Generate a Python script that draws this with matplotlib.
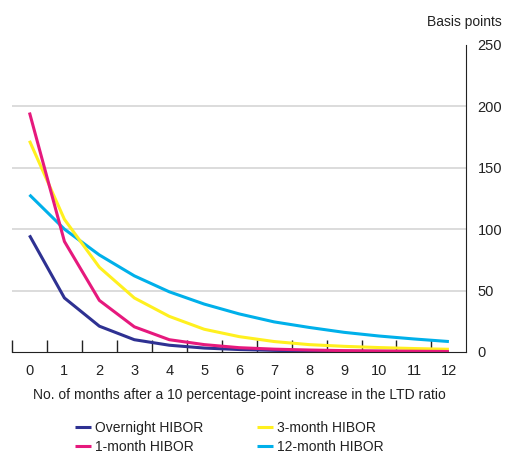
import numpy as np
import matplotlib
matplotlib.use("Agg")
import matplotlib.pyplot as plt
from matplotlib.ticker import FixedLocator

plt.rcParams['font.family'] = ['Liberation Sans', 'DejaVu Sans']

months = list(range(13))
overnight = [95, 44, 21, 10, 5.5, 3.2, 2, 1.3, 0.9, 0.6, 0.5, 0.4, 0.3]
one_month = [195, 90, 42, 20.5, 10, 6, 3.5, 2.3, 1.6, 1.1, 0.8, 0.6, 0.4]
three_month = [172, 108, 69, 44, 29, 18.5, 12.5, 8.5, 6, 4.6, 3.6, 2.8, 2.2]
twelve_month = [128, 100, 79, 62, 49, 39, 31, 24.5, 20, 16, 13, 10.6, 8.5]

series = [
    ("Overnight HIBOR", overnight, "#2E3192"),
    ("1-month HIBOR", one_month, "#E6197D"),
    ("3-month HIBOR", three_month, "#FFF01F"),
    ("12-month HIBOR", twelve_month, "#00B0EA"),
]

fig = plt.figure(figsize=(5.06, 4.53), dpi=100)
ax = fig.add_axes([0.0237, 0.223, 0.898, 0.6777])

for y in [50, 100, 150, 200]:
    ax.axhline(y, color="#d9d9d9", lw=1.3, zorder=0)

# magenta drawn over yellow, cyan under both
order = [0, 3, 2, 1]
lines = {}
for i in order:
    name, vals, col = series[i]
    lines[i], = ax.plot(months, vals, color=col, lw=2.2, label=name,
                        solid_capstyle="butt", zorder=2)

ax.set_xlim(-0.5, 12.5)
ax.set_ylim(0, 250)

for s in ["top", "left"]:
    ax.spines[s].set_visible(False)
ax.spines["bottom"].set_color("#222222")
ax.spines["right"].set_color("#222222")

ax.yaxis.tick_right()
ax.set_yticks([0, 50, 100, 150, 200, 250])
ax.tick_params(axis="y", length=0, pad=8, labelsize=10.5, colors="#222222")

ax.set_xticks(months)
ax.set_xticklabels([str(m) for m in months])
ax.xaxis.set_minor_locator(FixedLocator(np.arange(-0.5, 12.5, 1)))
ax.tick_params(axis="x", which="major", length=0, pad=9, labelsize=10.5, colors="#222222")
ax.tick_params(axis="x", which="minor", direction="in", length=9, width=1, color="#222222")

ax.set_xlabel("No. of months after a 10 percentage-point increase in the LTD ratio",
              fontsize=10, color="#222222", labelpad=7)

fig.text(0.992, 0.951, "Basis points", ha="right", va="center", fontsize=10, color="#222222")

handles = [lines[0], lines[1], lines[2], lines[3]]
leg = fig.legend(handles, [series[i][0] for i in range(4)], ncol=2,
                 loc="center", bbox_to_anchor=(0.453, 0.035), frameon=False,
                 fontsize=10, handlelength=1.15, handletextpad=0.3,
                 columnspacing=3.9, labelspacing=0.35)
for t in leg.get_texts():
    t.set_color("#222222")

fig.savefig("out.png", dpi=100)
